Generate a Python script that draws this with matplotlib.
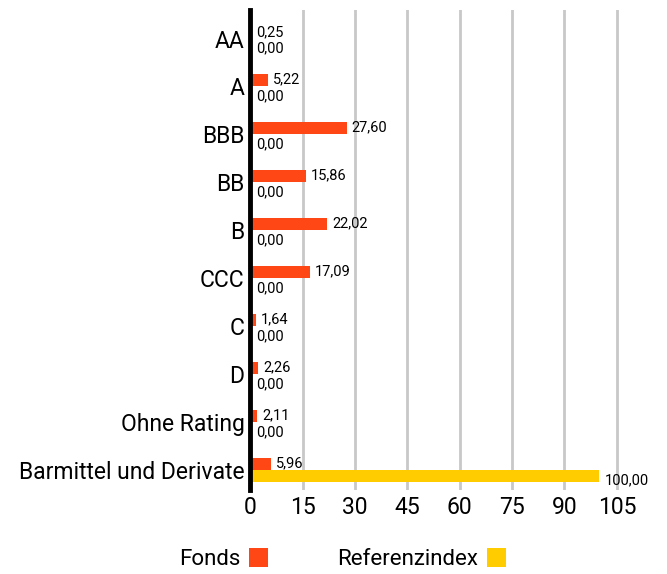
import numpy as np
import matplotlib.pyplot as plt

categories = ["AA", "A", "BBB", "BB", "B", "CCC", "C", "D", "Ohne Rating",
              "Barmittel und Derivate"]
fonds = [0.25, 5.22, 27.60, 15.86, 22.02, 17.09, 1.64, 2.26, 2.11, 5.96]
referenz = [0.00, 0.00, 0.00, 0.00, 0.00, 0.00, 0.00, 0.00, 0.00, 100.00]
xticks = [0, 15, 30, 45, 60, 75, 90, 105]

plt.rcParams['font.family'] = ['Roboto', 'DejaVu Sans']

fig = plt.figure(figsize=(6.67, 5.74), dpi=100)
ax = fig.add_axes([0.375, 0.146, 0.555, 0.837])

y = np.arange(len(categories))
h = 0.25
b1 = ax.barh(y - h / 2, fonds, height=h, color="#FF4716", label="Fonds", zorder=3)
b2 = ax.barh(y + h / 2, referenz, height=h, color="#FFCC00", label="Referenzindex", zorder=3)

fmt = lambda v: f"{v:.2f}".replace(".", ",")
for yi, v in zip(y, fonds):
    ax.annotate(fmt(v), (v, yi - h / 2), xytext=(3.6, 0.5), textcoords="offset points",
                ha="left", va="center", fontsize=10.5)
for yi, v in zip(y, referenz):
    ax.annotate(fmt(v), (v, yi + h / 2), xytext=(4, -3), textcoords="offset points",
                ha="left", va="center", fontsize=10.5)

ax.set_xlim(0, 106)
ax.set_ylim(9.42, -0.6)
ax.set_yticks(y)
ax.set_yticklabels(categories, fontsize=16.5)
ax.set_xticks(xticks)
ax.set_xticklabels([str(t) for t in xticks], fontsize=16.5)
ax.tick_params(length=0, pad=4)
ax.grid(axis="x", color="#c8c8c8", linewidth=2, zorder=0)
for s in ["top", "right", "bottom"]:
    ax.spines[s].set_visible(False)
ax.spines["left"].set_linewidth(3.5)
ax.spines["left"].set_zorder(4)

fig.legend(handles=[b1, b2], loc="lower center", bbox_to_anchor=(0.513, -0.028), ncol=2,
           frameon=False, fontsize=16, markerfirst=False, handlelength=0.85,
           handleheight=1.0, handletextpad=0.4, columnspacing=3.1)

fig.savefig("out.png", dpi=100)
